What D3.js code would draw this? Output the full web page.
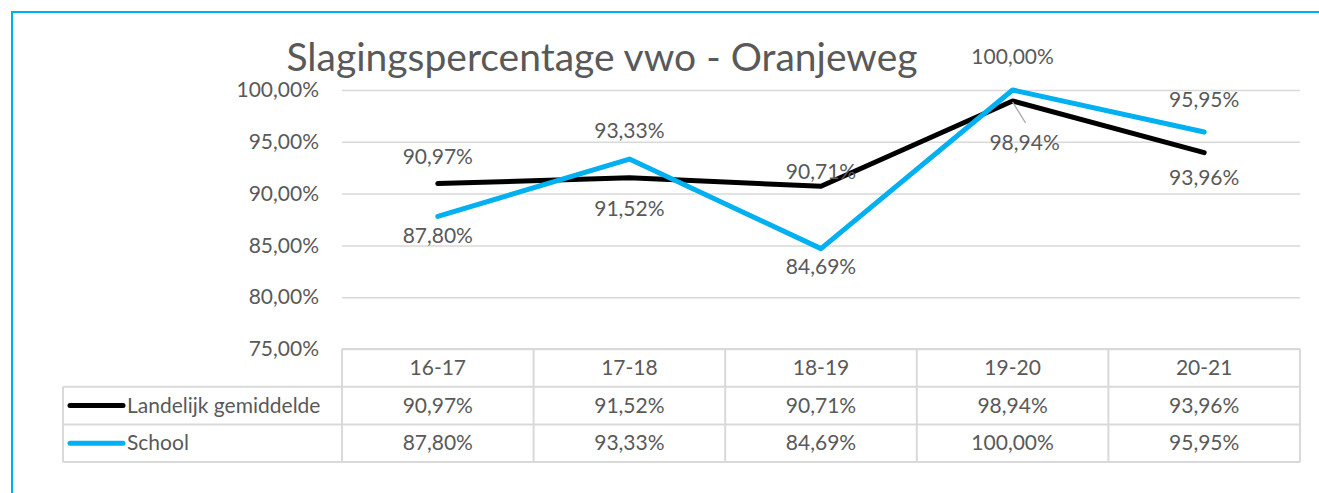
<!DOCTYPE html>
<html>
<head>
<meta charset="utf-8">
<script src="https://cdn.jsdelivr.net/npm/d3@7"></script>
<style>
  body { margin: 0; background: #fff; }
  text { font-family: Lato, "Liberation Sans", sans-serif; fill: #595959; }
</style>
</head>
<body>
<div id="chart"></div>
<script>
// chart data
const categories = ["16-17", "17-18", "18-19", "19-20", "20-21"];
const landelijk = [90.97, 91.52, 90.71, 98.94, 93.96];
const school = [87.80, 93.33, 84.69, 100.00, 95.95];
const yTicks = [75, 80, 85, 90, 95, 100];
const seriesNames = ["Landelijk gemiddelde", "School"];

// label placement offsets from the point, in px (styling, not data)
const landelijkLabelDy = [-20, 38, -7, 49, 32];
const schoolLabelDy = [27, -21, 25, -26, -25];

const W = 1319, H = 493;
const plot = { left: 342, right: 1300, top: 90, bottom: 349 };
const rowH = 37.7;
const fs = "21px";

const fmt = v => d3.format(".2f")(v).replace(".", ",") + "%";

const svg = d3.select("#chart").append("svg")
    .attr("width", W)
    .attr("height", H);

// outer frame (only left + top visible)
svg.append("path")
    .attr("d", `M 12 ${H} L 12 12 L ${W} 12`)
    .attr("fill", "none")
    .attr("stroke", "#00B0F0")
    .attr("stroke-width", 2);

// title
svg.append("text")
    .attr("x", 602)
    .attr("y", 71)
    .attr("text-anchor", "middle")
    .style("font-size", "39px")
    .text("Slagingspercentage vwo - Oranjeweg");

const x = d3.scaleBand()
    .domain(categories)
    .range([plot.left, plot.right]);

const y = d3.scaleLinear()
    .domain([75, 100])
    .range([plot.bottom, plot.top]);

// gridlines + y labels through an axis
const yAxis = svg.append("g")
    .attr("transform", `translate(${plot.left},0)`)
    .call(d3.axisLeft(y)
        .tickValues(yTicks)
        .tickSize(-(plot.right - plot.left))
        .tickPadding(23)
        .tickFormat(fmt));
yAxis.select(".domain").remove();
yAxis.selectAll(".tick line")
    .attr("stroke", "#D9D9D9")
    .attr("stroke-width", 1.5);
yAxis.selectAll(".tick text")
    .style("font-size", fs)
    .attr("fill", "#595959");

// lines
const cx = c => x(c) + x.bandwidth() / 2;
const line = d3.line()
    .x((d, i) => cx(categories[i]))
    .y(d => y(d));

const series = [
    { name: seriesNames[0], values: landelijk, color: "#000000", dy: landelijkLabelDy },
    { name: seriesNames[1], values: school, color: "#00B0F0", dy: schoolLabelDy }
];

series.forEach(s => {
    svg.append("path")
        .datum(s.values)
        .attr("d", line)
        .attr("fill", "none")
        .attr("stroke", s.color)
        .attr("stroke-width", 5)
        .attr("stroke-linejoin", "round")
        .attr("stroke-linecap", "round");
});

// leader line for the moved 98,94% label
{
    const px = cx(categories[3]), py = y(landelijk[3]);
    svg.append("line")
        .attr("x1", px).attr("y1", py + 1)
        .attr("x2", px + 13).attr("y2", py + 22)
        .attr("stroke", "#A6A6A6")
        .attr("stroke-width", 1.3);
}

// data labels
series.forEach((s, k) => {
    s.values.forEach((v, i) => {
        const leader = (k === 0 && i === 3);
        svg.append("text")
            .attr("x", cx(categories[i]) + (leader ? 12 : 0))
            .attr("y", y(v) + s.dy[i])
            .attr("text-anchor", "middle")
            .style("font-size", fs)
            .text(fmt(v));
    });
});

// data table
const tbl = svg.append("g");
const gridColor = "#D9D9D9";
const rows = [plot.bottom, plot.bottom + rowH, plot.bottom + 2 * rowH, plot.bottom + 3 * rowH];
const legLeft = 63;

tbl.append("line")
    .attr("x1", plot.left).attr("x2", plot.right)
    .attr("y1", rows[0]).attr("y2", rows[0]);
rows.slice(1).forEach(r => {
    tbl.append("line")
        .attr("x1", legLeft).attr("x2", plot.right)
        .attr("y1", r).attr("y2", r);
});
tbl.append("line")
    .attr("x1", legLeft).attr("x2", legLeft)
    .attr("y1", rows[1]).attr("y2", rows[3]);
categories.forEach(c => {
    tbl.append("line")
        .attr("x1", x(c)).attr("x2", x(c))
        .attr("y1", rows[0]).attr("y2", rows[3]);
});
tbl.append("line")
    .attr("x1", plot.right).attr("x2", plot.right)
    .attr("y1", rows[0]).attr("y2", rows[3]);
tbl.selectAll("line")
    .attr("stroke", gridColor)
    .attr("stroke-width", 2);

// header row
categories.forEach(c => {
    tbl.append("text")
        .attr("x", cx(c))
        .attr("y", rows[0] + rowH / 2 + 7)
        .attr("text-anchor", "middle")
        .style("font-size", fs)
        .text(c);
});

// value rows + legend keys
series.forEach((s, k) => {
    const top = rows[k + 1];
    const mid = top + rowH / 2;
    tbl.append("line")
        .attr("x1", 70).attr("x2", 123)
        .attr("y1", mid).attr("y2", mid)
        .attr("stroke", s.color)
        .attr("stroke-width", 5)
        .attr("stroke-linecap", "round");
    tbl.append("text")
        .attr("x", 127)
        .attr("y", mid + 7)
        .style("font-size", fs)
        .text(s.name);
    s.values.forEach((v, i) => {
        tbl.append("text")
            .attr("x", cx(categories[i]))
            .attr("y", mid + 7)
            .attr("text-anchor", "middle")
            .style("font-size", fs)
            .text(fmt(v));
    });
});
</script>
</body>
</html>
